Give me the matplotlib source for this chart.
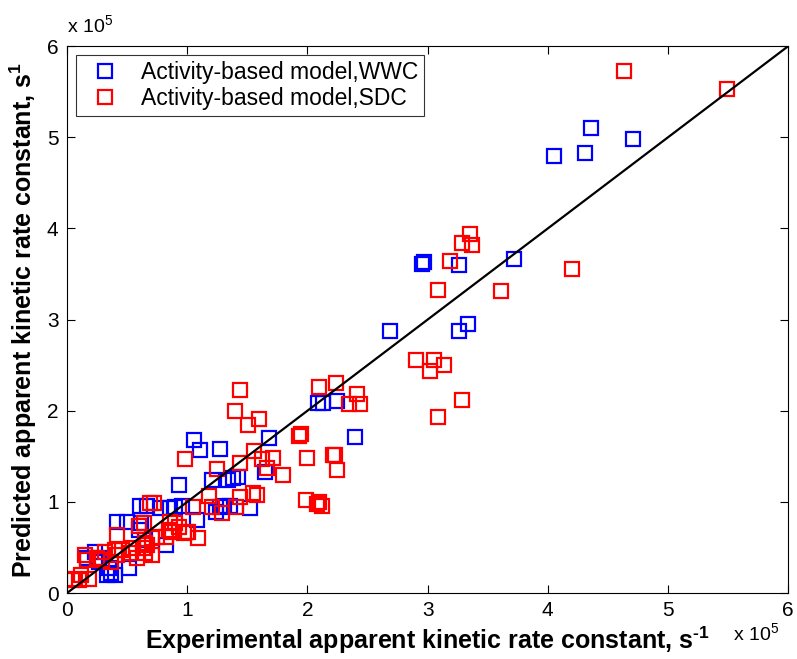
import numpy as np
import matplotlib
matplotlib.use('Agg')
import matplotlib.pyplot as plt
from matplotlib.ticker import FuncFormatter

plt.rcParams['font.family'] = ['Liberation Sans', 'DejaVu Sans']
plt.rcParams['mathtext.fontset'] = 'custom'
plt.rcParams['mathtext.rm'] = 'Liberation Sans'
plt.rcParams['mathtext.bf'] = 'Liberation Sans:bold'
plt.rcParams['mathtext.default'] = 'regular'

ESC = 1e5

# Activity-based model, WWC (experimental, predicted) en unidades de 1e5 s^-1
wwc_exp = np.array([4.36, 4.71, 4.05, 4.31, 3.72, 2.95, 2.97, 3.26, 2.69, 3.26,
                    3.34, 2.40, 2.09, 2.13, 2.25, 1.06, 1.11, 1.27, 1.68, 1.65,
                    0.93, 1.21, 1.34, 1.42, 1.38, 1.27, 1.31, 1.36, 1.52, 1.24,
                    1.08, 0.86, 0.90, 0.96, 0.61, 0.67, 0.77, 0.42, 0.50, 0.62,
                    0.60, 0.82, 0.52, 0.35, 0.37, 0.40, 0.33, 0.17, 0.23, 0.27,
                    0.27, 0.65]) * ESC
wwc_pred = np.array([5.10, 4.98, 4.80, 4.83, 3.66, 3.61, 3.63, 3.60, 2.87, 2.88,
                     2.95, 1.71, 2.09, 2.09, 2.11, 1.68, 1.57, 1.58, 1.70, 1.33,
                     1.19, 1.24, 1.24, 1.27, 1.26, 0.94, 0.96, 0.96, 0.93, 0.89,
                     0.80, 0.93, 0.94, 0.95, 0.95, 0.96, 0.93, 0.78, 0.78, 0.77,
                     0.69, 0.53, 0.28, 0.27, 0.22, 0.20, 0.20, 0.39, 0.45, 0.39,
                     0.34, 0.58]) * ESC

# Activity-based model, SDC
sdc_exp = np.array([4.63, 5.49, 3.35, 3.29, 3.37, 3.19, 3.09, 3.61, 4.20, 2.90,
                    3.05, 3.02, 3.14, 3.29, 3.09, 2.10, 2.24, 2.41, 2.35, 2.44,
                    1.93, 1.95, 2.00, 2.21, 2.23, 2.25, 1.99, 2.08, 2.12, 2.10,
                    1.44, 1.40, 1.51, 1.60, 0.98, 1.56, 1.44, 1.62, 1.71, 1.66,
                    1.80, 1.25, 1.18, 1.44, 1.55, 1.58, 1.21, 1.29, 1.41, 1.05,
                    1.09, 0.97, 1.00, 0.87, 0.86, 0.75, 0.72, 0.69, 0.42, 0.60,
                    0.64, 0.90, 0.93, 1.01, 0.85, 0.82, 0.15, 0.32, 0.40, 0.46,
                    0.29, 0.37, 0.58, 0.65, 0.71, 0.65, 0.71, 0.67, 0.63, 0.55,
                    0.52, 0.06, 0.12, 0.18, 0.10, 0.04, 0.25, 0.17, 0.42]) * ESC
sdc_pred = np.array([5.73, 5.53, 3.94, 3.84, 3.82, 3.64, 3.33, 3.31, 3.55, 2.56,
                     2.56, 2.44, 2.50, 2.12, 1.93, 2.26, 2.31, 2.18, 2.07, 2.07,
                     1.72, 1.74, 1.48, 1.52, 1.51, 1.35, 1.02, 0.98, 0.96, 1.00,
                     2.23, 2.00, 1.84, 1.91, 1.47, 1.56, 1.43, 1.47, 1.48, 1.37,
                     1.30, 1.36, 1.07, 1.05, 1.10, 1.08, 0.94, 0.88, 0.94, 0.94,
                     0.60, 0.66, 0.67, 0.67, 0.78, 0.61, 0.99, 0.99, 0.64, 0.74,
                     0.77, 0.77, 0.72, 0.67, 0.69, 0.61, 0.42, 0.45, 0.47, 0.47,
                     0.36, 0.34, 0.39, 0.44, 0.42, 0.55, 0.60, 0.53, 0.49, 0.50,
                     0.44, 0.16, 0.20, 0.16, 0.14, 0.14, 0.38, 0.36, 0.42]) * ESC

lim = 6 * ESC
ticks = np.arange(0, 7) * ESC

fig = plt.figure(figsize=(7.97, 6.59), dpi=100)
ax = fig.add_axes([0.084, 0.100, 0.905, 0.830])

ax.plot(wwc_exp, wwc_pred, 's', color='blue', mfc='none', mew=1.6, ms=9.5,
        linestyle='none', label='Activity-based model,WWC')
ax.plot(sdc_exp, sdc_pred, 's', color='red', mfc='none', mew=1.6, ms=9.5,
        linestyle='none', label='Activity-based model,SDC')
ax.plot([0, lim], [0, lim], '-', color='black', lw=1.6)

ax.set_xlim(0, lim); ax.set_ylim(0, lim)
ax.set_xticks(ticks); ax.set_yticks(ticks)
fmt = FuncFormatter(lambda v, p: f'{v / ESC:g}')
ax.xaxis.set_major_formatter(fmt); ax.yaxis.set_major_formatter(fmt)
ax.tick_params(direction='in', top=True, right=True, length=6, width=0.8,
               labelsize=15, pad=6)
for s in ax.spines.values():
    s.set_linewidth(0.8)

ax.set_xlabel('Experimental apparent kinetic rate constant, s$^{\u20101}$',
              fontsize=18, fontweight='bold', labelpad=3)
ax.set_ylabel('Predicted apparent kinetic rate constant, s$^{1}$',
              fontsize=18, fontweight='bold', labelpad=6)

fig.text(0.084, 0.945, r'x 10$^{5}$', fontsize=14, ha='left', va='bottom')
fig.text(0.920, 0.022, r'x 10$^{5}$', fontsize=14, ha='left', va='bottom')

leg = ax.legend(loc='upper left', fontsize=16.5, frameon=True, fancybox=False,
                edgecolor='black', handlelength=2.0, borderaxespad=0.4,
                borderpad=0.25, labelspacing=0.15, handletextpad=0.6,
                numpoints=1)
leg.get_frame().set_linewidth(0.8)

fig.savefig('out.png', dpi=100)
plt.close(fig)
